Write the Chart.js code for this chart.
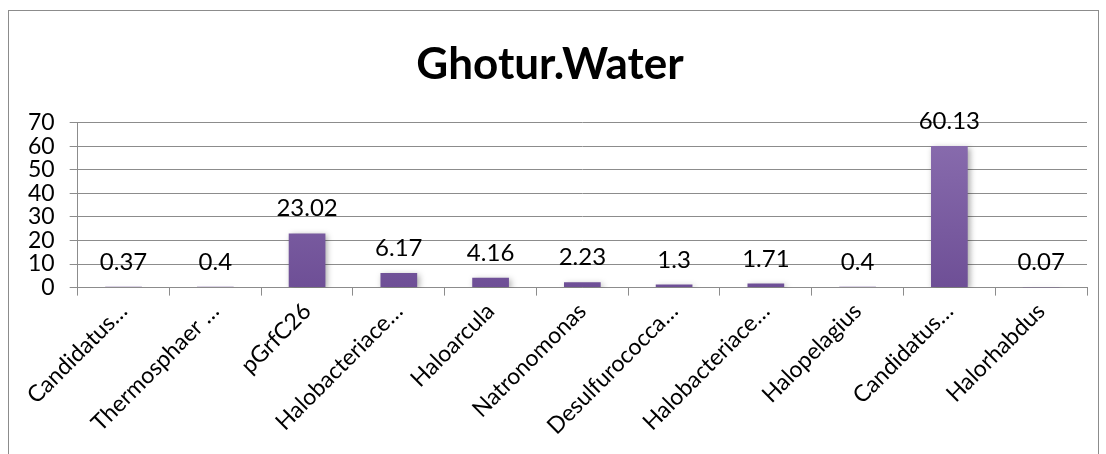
<!DOCTYPE html>
<html>
<head>
<meta charset="utf-8">
<script src="https://cdn.jsdelivr.net/npm/chart.js@4"></script>
<style>
  html, body { margin: 0; padding: 0; background: #fff; }
  #wrap { width: 1106px; height: 454px; }
</style>
</head>
<body>
<div id="wrap"><canvas id="myChart" width="1106" height="454"></canvas></div>
<script>
// datos
const categorias = ['Candidatus\u2026', 'Thermosphaer \u2026', 'pGrfC26', 'Halobacteriace\u2026', 'Haloarcula',
  'Natronomonas', 'Desulfurococca\u2026', 'Halobacteriace\u2026', 'Halopelagius', 'Candidatus\u2026', 'Halorhabdus'];
const valores = [0.37, 0.4, 23.02, 6.17, 4.16, 2.23, 1.3, 1.71, 0.4, 60.13, 0.07];
const tituloChart = 'Ghotur.Water';

const fuente = 'Lato, "Open Sans", sans-serif';

// marco exterior del grafico
const marco = {
  id: 'marco',
  beforeDraw(chart) {
    const c = chart.ctx;
    c.save();
    c.fillStyle = '#fff';
    c.fillRect(0, 0, chart.width, chart.height);
    c.strokeStyle = '#8c8c8c';
    c.lineWidth = 1;
    c.strokeRect(8.5, 10.5, 1090, 470);
    c.restore();
  }
};

// sombra suave de las barras
const sombra = {
  id: 'sombra',
  beforeDatasetsDraw(chart) {
    const c = chart.ctx;
    c.save();
    c.shadowColor = 'rgba(0,0,0,0.35)';
    c.shadowBlur = 6;
    c.shadowOffsetX = 2;
    c.shadowOffsetY = 2;
  },
  afterDatasetsDraw(chart) {
    chart.ctx.restore();
  }
};

// etiquetas de valor encima de cada barra
const etiquetas = {
  id: 'etiquetas',
  afterDatasetsDraw(chart) {
    const c = chart.ctx;
    const meta = chart.getDatasetMeta(0);
    c.save();
    c.font = '24px ' + fuente;
    c.fillStyle = '#000';
    c.textAlign = 'center';
    c.textBaseline = 'alphabetic';
    meta.data.forEach((bar, i) => {
      c.fillText(String(valores[i]), bar.x, bar.y - 17);
    });
    c.restore();
  }
};

const ctx = document.getElementById('myChart').getContext('2d');

const myChart = new Chart(ctx, {
  type: 'bar',
  data: {
    labels: categorias,
    datasets: [{
      data: valores,
      backgroundColor: (context) => {
        const area = context.chart.chartArea;
        if (!area) return '#7f62a0';
        const g = context.chart.ctx.createLinearGradient(0, area.top, 0, area.bottom);
        g.addColorStop(0, '#8b6fb0');
        g.addColorStop(1, '#6e4f96');
        return g;
      },
      borderWidth: 0,
      barPercentage: 0.4,
      categoryPercentage: 1.0
    }]
  },
  options: {
    animation: false,
    responsive: false,
    layout: { padding: { left: 13, right: 19, top: 6, bottom: 12 } },
    plugins: {
      legend: { display: false },
      tooltip: { enabled: false },
      title: {
        display: true,
        text: tituloChart,
        color: '#000',
        font: { family: fuente, size: 44, weight: 'bold' },
        padding: { top: 32, bottom: 32 }
      }
    },
    scales: {
      x: {
        grid: { offset: true, drawOnChartArea: false, color: '#8c8c8c', tickLength: 8 },
        border: { color: '#8c8c8c' },
        ticks: {
          color: '#000',
          font: { family: fuente, size: 23 },
          minRotation: 45,
          maxRotation: 45,
          autoSkip: false,
          padding: 2
        }
      },
      y: {
        min: 0,
        max: 70,
        grid: { color: '#8c8c8c', tickLength: 8 },
        border: { color: '#8c8c8c' },
        ticks: {
          stepSize: 10,
          autoSkip: false,
          color: '#000',
          font: { family: fuente, size: 23, lineHeight: 1 },
          padding: 15
        }
      }
    }
  },
  plugins: [marco, sombra, etiquetas]
});
</script>
</body>
</html>
